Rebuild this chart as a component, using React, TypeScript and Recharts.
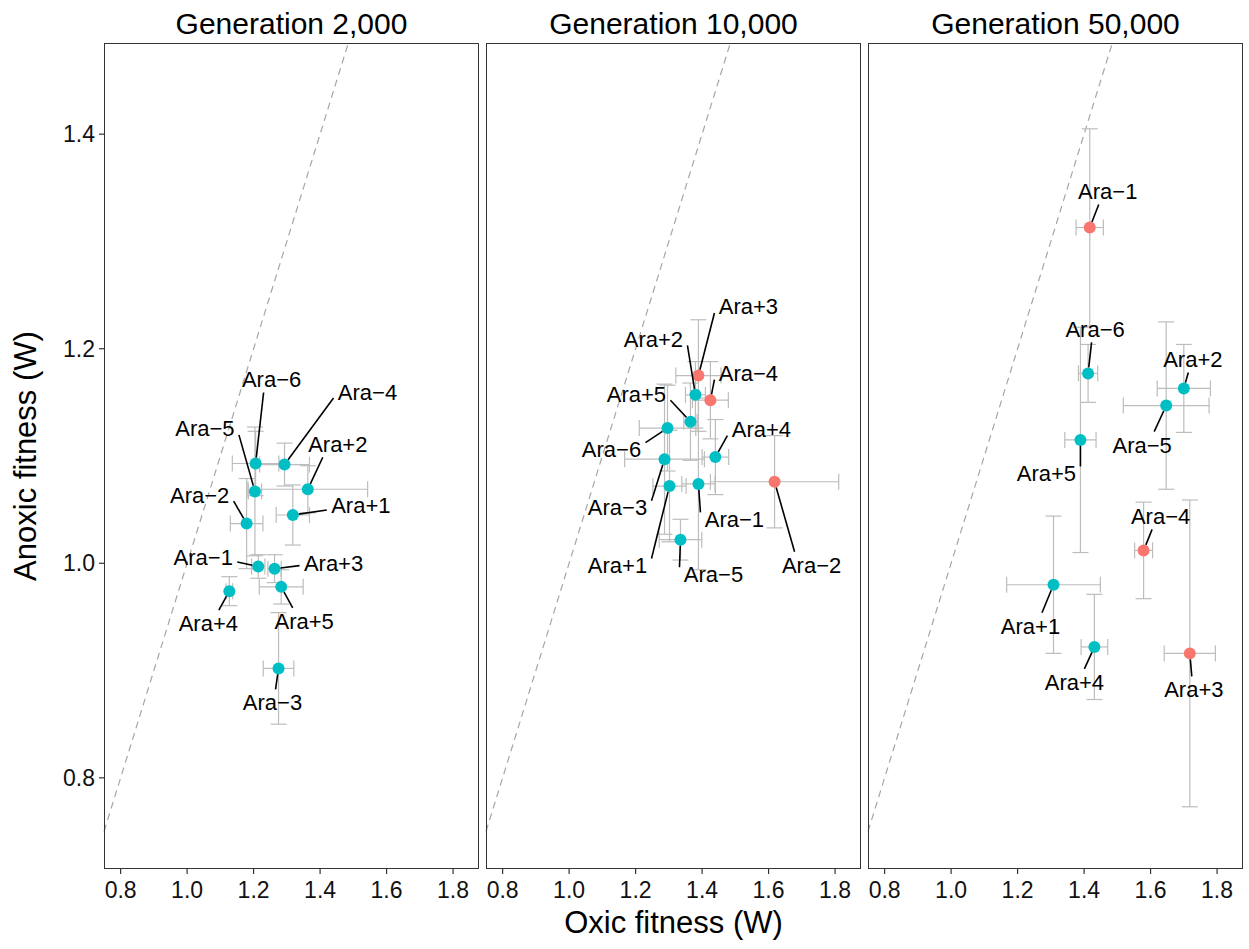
import { ErrorBar, ReferenceLine, Scatter, ScatterChart, XAxis, YAxis } from "recharts"

const TEAL = "#00BFC4"
const RED = "#F8766D"

const LINES = ["Ara−1", "Ara−2", "Ara−3", "Ara−4", "Ara−5", "Ara−6", "Ara+1", "Ara+2", "Ara+3", "Ara+4", "Ara+5"]

const X_TICKS = [0.8, 1.0, 1.2, 1.4, 1.6, 1.8]
const Y_TICKS = [0.8, 1.0, 1.2, 1.4]

// generation 2,000
const oxic2k = [1.214, 1.179, 1.275, 1.293, 1.204, 1.206, 1.318, 1.363, 1.263, 1.127, 1.283]
const anoxic2k = [0.997, 1.037, 0.902, 1.092, 1.067, 1.093, 1.045, 1.069, 0.995, 0.974, 0.978]
const oxicErr2k = [0.02, 0.049, 0.046, 0.075, 0.02, 0.07, 0.05, 0.18, 0.02, 0.01, 0.066]
const anoxicErr2k = [0.011, 0.042, 0.052, 0.02, 0.06, 0.03, 0.028, 0.022, 0.013, 0.0135, 0.016]
const sig2k: string[] = []

// generation 10,000
const oxic10k = [1.389, 1.618, 1.287, 1.425, 1.335, 1.296, 1.302, 1.38, 1.389, 1.44, 1.365]
const anoxic10k = [1.074, 1.076, 1.097, 1.152, 1.022, 1.126, 1.072, 1.157, 1.175, 1.099, 1.132]
const oxicErr10k = [0.05, 0.193, 0.12, 0.054, 0.064, 0.085, 0.05, 0.03, 0.068, 0.04, 0.02]
const anoxicErr10k = [0.08, 0.043, 0.07, 0.036, 0.019, 0.04, 0.052, 0.031, 0.052, 0.035, 0.036]
const sig10k = ["Ara−2", "Ara−4", "Ara+3"]

// generation 50,000 (Ara−2 and Ara−3 not measured)
const oxic50k = [1.417, null, null, 1.579, 1.647, 1.412, 1.308, 1.7, 1.718, 1.431, 1.389]
const anoxic50k = [1.313, null, null, 1.012, 1.147, 1.177, 0.98, 1.163, 0.916, 0.922, 1.115]
const oxicErr50k = [0.041, null, null, 0.027, 0.129, 0.029, 0.141, 0.08, 0.077, 0.04, 0.047]
const anoxicErr50k = [0.092, null, null, 0.045, 0.078, 0.027, 0.064, 0.041, 0.143, 0.049, 0.105]
const sig50k = ["Ara−1", "Ara−4", "Ara+3"]

// label placement (pixel offset of label centre from its point), like ggrepel did it
type Offsets = Record<string, [number, number]>
const labelOffsets2k: Offsets = {
  "Ara−1": [-55, -9], "Ara−2": [-47, -29], "Ara−3": [-6, 34], "Ara−4": [83, -73],
  "Ara−5": [-50, -63], "Ara−6": [16, -84], "Ara+1": [68, -10], "Ara+2": [30, -45],
  "Ara+3": [59, -6], "Ara+4": [-21, 32], "Ara+5": [23, 34],
}
const labelOffsets10k: Offsets = {
  "Ara+3": [50, -69], "Ara+2": [-42, -56], "Ara−4": [38, -27], "Ara+5": [-54, -28],
  "Ara−6": [-56, 21], "Ara+4": [46, -28], "Ara−3": [-47, 48], "Ara−1": [36, 35],
  "Ara+1": [-52, 79], "Ara−5": [33, 34], "Ara−2": [37, 83],
}
const labelOffsets50k: Offsets = {
  "Ara−1": [18, -36], "Ara−6": [7, -44], "Ara+2": [9, -29], "Ara−5": [-24, 39],
  "Ara+5": [-34, 33], "Ara−4": [17, -34], "Ara+1": [-23, 41], "Ara+4": [-20, 35],
  "Ara+3": [4, 36],
}

type Row = { name: string; x: number; y: number; xErr: number; yErr: number; color: string }

function buildRows(
  oxic: (number | null)[],
  anoxic: (number | null)[],
  oxicErr: (number | null)[],
  anoxicErr: (number | null)[],
  sig: string[]
): Row[] {
  const rows: Row[] = []
  LINES.forEach((name, i) => {
    const x = oxic[i]
    const y = anoxic[i]
    if (x == null || y == null) return
    rows.push({
      name,
      x,
      y,
      xErr: oxicErr[i] ?? 0,
      yErr: anoxicErr[i] ?? 0,
      color: sig.includes(name) ? RED : TEAL,
    })
  })
  return rows
}

const FONT = "'Liberation Sans', Arial, Helvetica, sans-serif"
const PLOT_TOP = 43
const PLOT_W = 375
const PLOT_H = 826
const CHART_H = 949
const X_DOMAIN: [number, number] = [0.75, 1.878]
const Y_DOMAIN: [number, number] = [0.715, 1.485]
const DOT_R = 6
const LABEL_SIZE = 22

const clamp = (v: number, lo: number, hi: number) => Math.min(hi, Math.max(lo, v))

function Dot(props: any) {
  const { cx, cy, payload } = props
  if (cx == null || cy == null) return null
  return <circle cx={cx} cy={cy} r={DOT_R} fill={payload.color} />
}

function RepelLabel(props: any) {
  const { cx, cy, payload, offsets } = props
  if (cx == null || cy == null) return null
  const off: [number, number] = offsets[payload.name] ?? [0, -30]
  const lx = cx + off[0]
  const ly = cy + off[1]
  const hw = 34
  const hh = 13
  const cands = [
    { x: lx - hw, y: ly, side: "h" },
    { x: lx + hw, y: ly, side: "h" },
    { x: lx, y: ly - hh, side: "v" },
    { x: lx, y: ly + hh, side: "v" },
  ]
  let best = cands[0]
  let bd = Infinity
  for (const c of cands) {
    const d = Math.hypot(c.x - cx, c.y - cy)
    if (d < bd) {
      bd = d
      best = c
    }
  }
  let ex = best.x
  let ey = best.y
  if (best.side === "h") ey = (clamp(cy, ly - hh, ly + hh) + ly) / 2
  else ex = (clamp(cx, lx - hw, lx + hw) + lx) / 2
  const len = Math.hypot(ex - cx, ey - cy)
  const sx = len > 0 ? cx + ((ex - cx) / len) * DOT_R : cx
  const sy = len > 0 ? cy + ((ey - cy) / len) * DOT_R : cy
  return (
    <g>
      {len > DOT_R + 2 && <line x1={sx} y1={sy} x2={ex} y2={ey} stroke="#000" strokeWidth={1.6} />}
      <text
        x={lx}
        y={ly + LABEL_SIZE * 0.36}
        textAnchor="middle"
        fontSize={LABEL_SIZE}
        fill="#000"
        style={{ fontFamily: FONT }}
      >
        {payload.name}
      </text>
    </g>
  )
}

function Panel({
  title,
  rows,
  offsets,
  plotLeft,
  showY,
}: {
  title: string
  rows: Row[]
  offsets: Offsets
  plotLeft: number
  showY: boolean
}) {
  // first panel carries the y axis; the others get a small left pad so the 0.8 tick text is not cut
  const yAxisW = showY ? plotLeft : 0
  const padLeft = showY ? 0 : 6
  const chartLeft = plotLeft - yAxisW - padLeft
  const chartW = padLeft + yAxisW + PLOT_W + 1
  return (
    <>
      <div
        style={{
          position: "absolute",
          left: plotLeft,
          top: 9,
          width: PLOT_W,
          textAlign: "center",
          fontSize: 30,
          lineHeight: "30px",
          color: "#000",
          whiteSpace: "nowrap",
        }}
      >
        {title}
      </div>
      <div style={{ position: "absolute", left: chartLeft, top: 0 }}>
        <ScatterChart
          width={chartW}
          height={CHART_H}
          margin={{ top: PLOT_TOP, right: 1, bottom: 0, left: padLeft }}
        >
          <XAxis
            type="number"
            dataKey="x"
            domain={X_DOMAIN}
            ticks={X_TICKS}
            allowDataOverflow
            height={CHART_H - PLOT_TOP - PLOT_H}
            tickFormatter={(v: number) => v.toFixed(1)}
            tick={{ fontSize: 23, fill: "#111" }}
            tickSize={5}
            tickMargin={8}
            tickLine={{ stroke: "#333", strokeWidth: 1.2 }}
            axisLine={false}
          />
          <YAxis
            type="number"
            dataKey="y"
            domain={Y_DOMAIN}
            ticks={Y_TICKS}
            allowDataOverflow
            hide={!showY}
            width={yAxisW}
            tickFormatter={(v: number) => v.toFixed(1)}
            tick={{ fontSize: 23, fill: "#111" }}
            tickSize={5}
            tickMargin={4}
            tickLine={{ stroke: "#333", strokeWidth: 1.2 }}
            axisLine={false}
          />
          <ReferenceLine
            segment={[
              { x: 0.75, y: 0.75 },
              { x: 1.485, y: 1.485 },
            ]}
            stroke="#A6A6A6"
            strokeWidth={1.2}
            strokeDasharray="7 5"
            ifOverflow="visible"
          />
          <Scatter data={rows} shape={<Dot />} isAnimationActive={false}>
            <ErrorBar dataKey="xErr" direction="x" width={8} stroke="#BDBDBD" strokeWidth={1.2} />
            <ErrorBar dataKey="yErr" direction="y" width={8} stroke="#BDBDBD" strokeWidth={1.2} />
          </Scatter>
          <Scatter
            data={rows}
            shape={(p: any) => <RepelLabel {...p} offsets={offsets} />}
            isAnimationActive={false}
          />
        </ScatterChart>
      </div>
      <div
        style={{
          position: "absolute",
          left: plotLeft,
          top: PLOT_TOP,
          width: PLOT_W,
          height: PLOT_H,
          border: "1.4px solid #333",
          boxSizing: "border-box",
          pointerEvents: "none",
        }}
      />
    </>
  )
}

export default function App() {
  const rows2k = buildRows(oxic2k, anoxic2k, oxicErr2k, anoxicErr2k, sig2k)
  const rows10k = buildRows(oxic10k, anoxic10k, oxicErr10k, anoxicErr10k, sig10k)
  const rows50k = buildRows(oxic50k, anoxic50k, oxicErr50k, anoxicErr50k, sig50k)

  return (
    <div
      style={{
        position: "absolute",
        left: 0,
        top: 0,
        width: 1249,
        height: 949,
        background: "#fff",
        fontFamily: FONT,
        overflow: "hidden",
      }}
    >
      <Panel title="Generation 2,000" rows={rows2k} offsets={labelOffsets2k} plotLeft={104} showY />
      <Panel title="Generation 10,000" rows={rows10k} offsets={labelOffsets10k} plotLeft={486} showY={false} />
      <Panel title="Generation 50,000" rows={rows50k} offsets={labelOffsets50k} plotLeft={868} showY={false} />
      <div
        style={{
          position: "absolute",
          left: 25,
          top: 456,
          transform: "translate(-50%, -50%) rotate(-90deg)",
          fontSize: 31,
          lineHeight: "31px",
          whiteSpace: "nowrap",
          color: "#000",
        }}
      >
        Anoxic fitness (W)
      </div>
      <div
        style={{
          position: "absolute",
          left: 104,
          top: 907,
          width: 1139,
          textAlign: "center",
          fontSize: 31,
          lineHeight: "31px",
          whiteSpace: "nowrap",
          color: "#000",
        }}
      >
        Oxic fitness (W)
      </div>
    </div>
  )
}
